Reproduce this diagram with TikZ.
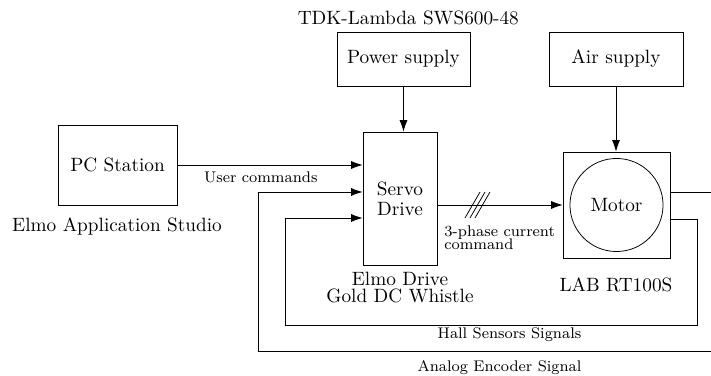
\documentclass[tikz,border=0pt]{standalone}
\usepackage{tikz}
\usetikzlibrary{arrows.meta,positioning}

\begin{document}
\begin{tikzpicture}[>={Latex[length=6pt,width=4.2pt]},x=0.519pt,y=-0.519pt,
  blk/.style={draw,align=center},
  sig/.style={font=\footnotesize}]
\clip (0,0) rectangle (711,376);
% blocks
\node[blk,minimum width=61.8pt,minimum height=41.5pt] (pc) at (117.5,165) {PC Station};
\node[anchor=base] (pclab) at (117,232) {Elmo Application Studio};
\node[blk,minimum width=38.4pt,minimum height=69pt] (srv) at (400,198.5) {Servo\\[-1.6pt]Drive};
\node[align=center,below=0pt of srv] (srvlab) {Elmo Drive\\[-3.3pt]Gold DC Whistle};
\node[blk,minimum width=69pt,minimum height=28pt] (ps) at (403.5,59) {Power supply};
\node[above=0pt of ps,xshift=2.5pt] (pslab) {TDK-Lambda SWS600-48};
\node[blk,minimum width=69.5pt,minimum height=28pt] (air) at (616,59) {Air supply};
\node[draw,minimum width=55.5pt,minimum height=55pt] (mot) at (616.5,205) {};
\node[draw,circle,minimum size=48.3pt] (motc) at (mot) {Motor};
\node[anchor=base] (motlab) at (616,292) {LAB RT100S};
% connections
\draw[->] (ps.south) -- (ps.south |- srv.north);
\draw[->] (air) -- (air |- mot.north);
\draw[->] (pc) -- (pc -| srv.west) node[sig,below,pos=0.45] {User commands};
\draw[->] (srv.east |- mot) -- (mot.west);
\foreach \x in {465,470,475}
  \draw (\x,218) -- (\x+15,192);
\node[sig,anchor=north west,align=left] (phlab) at (437.5,219) {3-phase current\\[-2.6pt]command};
% feedback
\coordinate (encin) at (258,192);
\coordinate (hallin) at (285,218);
\draw[->] ([yshift=6.75pt]mot.east) -| (740,351) -| (encin) -- (encin -| srv.west);
\draw[->] ([yshift=-7.3pt]mot.east) -| (697,325) -| (hallin) -- (hallin -| srv.west);
\node[sig,anchor=base] (hallab) at (509.5,339) {Hall Sensors Signals};
\node[sig,anchor=base] (enclab) at (499.5,371.5) {Analog Encoder Signal};
\end{tikzpicture}
\end{document}
